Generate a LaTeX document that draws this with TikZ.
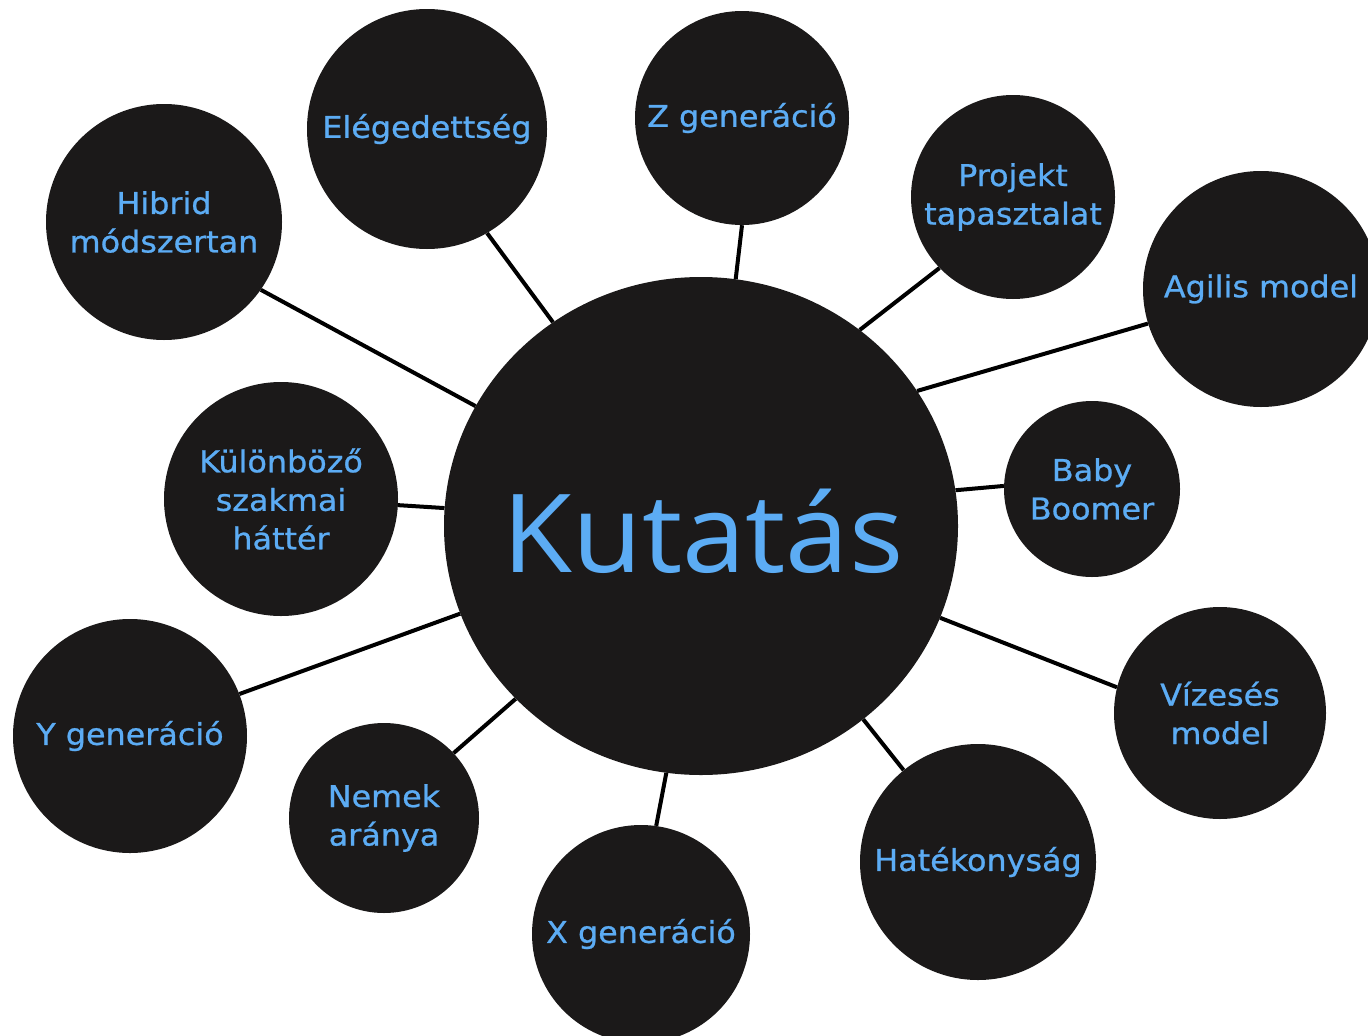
\documentclass[tikz,border=0pt]{standalone}
\usepackage{fontspec}
\setmainfont[FakeStretch=1.06,FakeBold=0.8]{DejaVu Sans}
\newfontfamily\bigfont[FakeStretch=1.045]{Open Sans}
\usetikzlibrary{shapes.geometric}
\definecolor{bubble}{RGB}{27,25,25}
\definecolor{txt}{RGB}{92,172,244}
\begin{document}
\begin{tikzpicture}[x=1pt,y=-1pt,
  sat/.style={circle, fill=bubble, inner sep=0pt, minimum size=#1, text=txt,
    align=center, font=\fontsize{30}{38.5}\selectfont},
  link/.style={line width=4pt, black}]
\useasboundingbox (0,0) rectangle (1368,1036);
\clip (0,0) rectangle (1368,1036);
\fill[white] (0,0) rectangle (1368,1036);
% central
\node[ellipse, fill=bubble, minimum width=514pt, minimum height=498pt, inner sep=0pt] (k) at (701,526) {};
\node[text=txt, font=\bigfont\fontsize{109}{109}\selectfont, inner sep=0pt] (kt) at (703,531) {Kutatás};
% satellites
\node[sat=236pt] (hib)  at (164,222) {Hibrid\\módszertan};
\node[sat=240pt] (ele)  at (427,129) {Elégedettség};
\node[sat=214pt] (zg)   at (742,118) {Z generáció};
\node[sat=204pt] (proj) at (1013,197) {Projekt\\tapasztalat};
\node[sat=236pt] (agi)  at (1261,289) {Agilis model};
\node[sat=176pt] (baby) at (1092,489) {Baby\\Boomer};
\node[sat=212pt] (viz)  at (1220,713) {Vízesés\\model};
\node[sat=236pt] (hat)  at (978,862) {Hatékonyság};
\node[sat=218pt] (xg)   at (641,934) {X generáció};
\node[sat=190pt] (nem)  at (384,818) {Nemek\\aránya};
\node[sat=234pt] (yg)   at (130,736) {Y generáció};
\node[sat=234pt] (kul)  at (281,499) {Különböző\\szakmai\\háttér};
% connectors
\draw[link] (hib.-35.6) -- (k.152.4);
\draw[link] (ele.-60.1) -- (k.126.3);
\draw[link] (zg.-90) -- (k.82.5);
\draw[link] (proj.-136.2) -- (k.51.8);
\draw[link] (agi.-163.8) -- (k.32.1);
\draw[link] (baby.178.7) -- (k.8);
\draw[link] (viz.166.6) -- (k.-21.4);
\draw[link] (hat.129.6) -- (k.-50.6);
\draw[link] (xg.82.3) -- (k.-98.8);
\draw[link] (nem.43.3) -- (k.-137.5);
\draw[link] (yg.21.2) -- (k.-160.1);
\draw[link] (kul.-3.9) -- (k.176.4);
\end{tikzpicture}
\end{document}
